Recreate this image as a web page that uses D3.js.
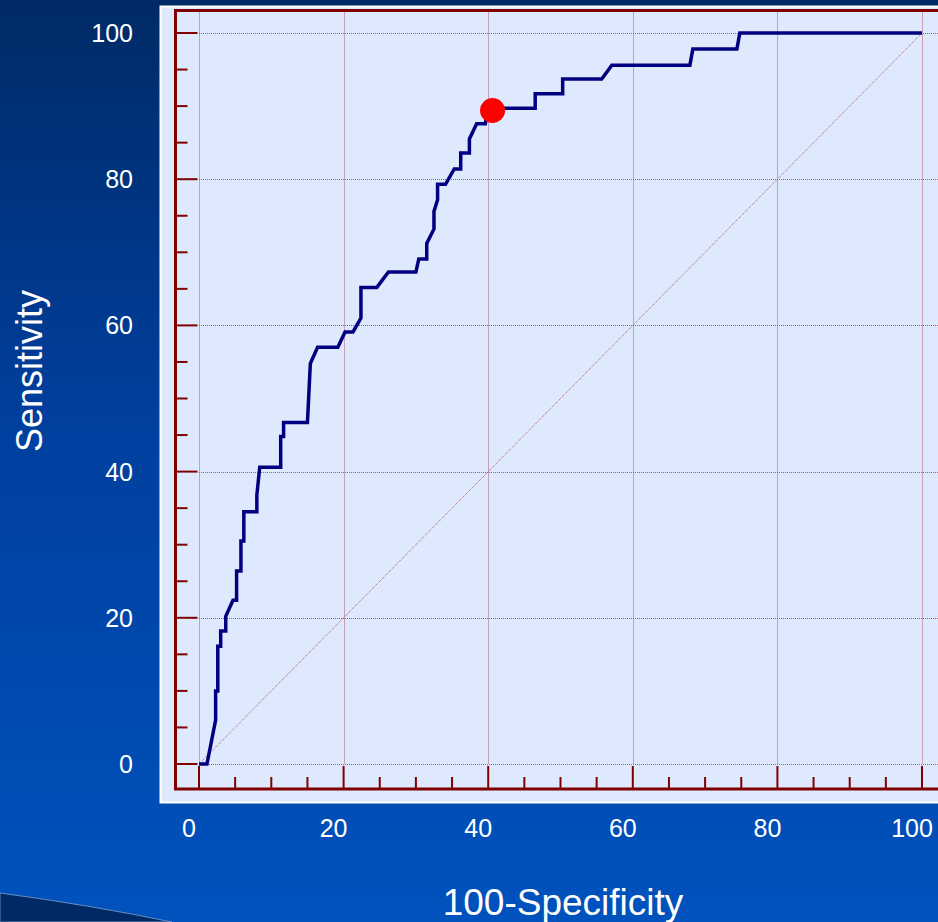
<!DOCTYPE html>
<html>
<head>
<meta charset="utf-8">
<script src="https://cdn.jsdelivr.net/npm/d3@7"></script>
<style>
  html, body { margin: 0; padding: 0; background: #003a8c; }
  svg { display: block; }
</style>
</head>
<body>
<div id="chart"></div>
<script>
// ROC curve (100-Specificity, Sensitivity)
var specPts = [0, 1.1, 2.3, 2.3, 2.6, 2.6, 3.0, 3.0, 3.7, 3.7, 4.7, 5.2, 5.2, 5.8, 5.8, 6.2, 6.2, 8.0, 8.0, 8.4,
               11.3, 11.3, 11.7, 11.7, 15.0, 15.4, 16.4, 19.2, 20.2, 21.3, 22.4, 22.4, 24.6, 26.2, 30.0, 30.4, 31.5, 31.5, 32.5, 32.5,
               33.0, 33.0, 34.1, 35.3, 36.2, 36.2, 37.4, 37.4, 38.4, 39.6, 40.0, 46.5, 46.5, 50.3, 50.3, 55.7, 57.1, 67.9, 68.3, 74.4,
               74.8, 100];
var sensPts = [0, 0, 6.0, 10.0, 10.0, 16.1, 16.1, 18.2, 18.2, 20.2, 22.4, 22.4, 26.4, 26.4, 30.5, 30.5, 34.5, 34.5, 36.8, 40.6,
               40.6, 44.8, 44.8, 46.7, 46.7, 54.8, 57.0, 57.0, 59.1, 59.1, 61.0, 65.2, 65.2, 67.3, 67.3, 69.1, 69.1, 71.2, 73.2, 75.6,
               77.2, 79.3, 79.3, 81.4, 81.4, 83.6, 83.6, 85.5, 87.6, 87.6, 89.7, 89.7, 91.7, 91.7, 93.7, 93.7, 95.6, 95.6, 97.8, 97.8,
               100, 100];
var cutPoint = [40.6, 89.4];
var majorTicks = [0, 20, 40, 60, 80, 100];
var minorTicks = d3.range(0, 101, 5).filter(function(d) { return d % 20 !== 0; });

var W = 938, H = 922;

var svg = d3.select('#chart').append('svg')
    .attr('width', W)
    .attr('height', H);

// slide background
var defs = svg.append('defs');
var grad = defs.append('linearGradient')
    .attr('id', 'bg')
    .attr('x1', 0).attr('y1', 0).attr('x2', 0).attr('y2', 1);
grad.append('stop').attr('offset', '0%').attr('stop-color', '#002a66');
grad.append('stop').attr('offset', '45%').attr('stop-color', '#003f9e');
grad.append('stop').attr('offset', '100%').attr('stop-color', '#0052bd');

svg.append('rect')
    .attr('width', W).attr('height', H)
    .attr('fill', 'url(#bg)');

// dark wedge in the bottom left corner
svg.append('path')
    .attr('d', 'M0,893 Q90,905 172,922 L0,922 Z')
    .attr('fill', '#002a66')
    .attr('stroke', '#7f9fd0')
    .attr('stroke-width', 0.8);

// plot panel
svg.append('rect')
    .attr('x', 160.5).attr('y', 6.5)
    .attr('width', 800).attr('height', 796)
    .attr('fill', '#dfe9fd')
    .attr('stroke', '#ffffff')
    .attr('stroke-width', 2);

// set the ranges
var x = d3.scaleLinear().domain([0, 100]).range([199, 922]);
var y = d3.scaleLinear().domain([0, 100]).range([764, 33]);

var frameLeft = 175.5, frameTop = 10.5, frameBottom = 789;
function crisp(v) { return Math.round(v) + 0.5; }

// grid
var grid = svg.append('g')
    .attr('stroke', '#a01830')
    .attr('stroke-width', 1)
    .attr('stroke-dasharray', '1,1')
    .attr('opacity', 0.7);

grid.selectAll('.vgrid')
    .data(majorTicks)
    .enter().append('line')
    .attr('x1', function(d) { return crisp(x(d)); })
    .attr('x2', function(d) { return crisp(x(d)); })
    .attr('y1', frameTop)
    .attr('y2', y(0));

grid.selectAll('.hgrid')
    .data(majorTicks)
    .enter().append('line')
    .attr('x1', x(0))
    .attr('x2', W)
    .attr('y1', function(d) { return crisp(y(d)); })
    .attr('y2', function(d) { return crisp(y(d)); });

// diagonal reference
grid.append('line')
    .attr('x1', x(0)).attr('y1', y(0))
    .attr('x2', x(100)).attr('y2', y(100));

// ticks
var ticks = svg.append('g')
    .attr('stroke', '#800000')
    .attr('stroke-width', 2);

ticks.selectAll('.ymaj')
    .data(majorTicks)
    .enter().append('line')
    .attr('x1', frameLeft).attr('x2', frameLeft + 22)
    .attr('y1', function(d) { return y(d); })
    .attr('y2', function(d) { return y(d); });

ticks.selectAll('.ymin')
    .data(minorTicks)
    .enter().append('line')
    .attr('x1', frameLeft).attr('x2', frameLeft + 12)
    .attr('y1', function(d) { return y(d); })
    .attr('y2', function(d) { return y(d); });

ticks.selectAll('.xmaj')
    .data(majorTicks)
    .enter().append('line')
    .attr('x1', function(d) { return x(d); })
    .attr('x2', function(d) { return x(d); })
    .attr('y1', frameBottom).attr('y2', frameBottom - 23);

ticks.selectAll('.xmin')
    .data(minorTicks)
    .enter().append('line')
    .attr('x1', function(d) { return x(d); })
    .attr('x2', function(d) { return x(d); })
    .attr('y1', frameBottom).attr('y2', frameBottom - 12);

// frame
svg.append('path')
    .attr('d', 'M' + W + ',' + frameTop + ' H' + frameLeft + ' V' + frameBottom + ' H' + W)
    .attr('fill', 'none')
    .attr('stroke', '#800000')
    .attr('stroke-width', 3);

// the ROC curve
var rocData = specPts.map(function(d, i) { return [d, sensPts[i]]; });
var rocLine = d3.line()
    .x(function(d) { return x(d[0]); })
    .y(function(d) { return y(d[1]); });

svg.append('path')
    .datum(rocData)
    .attr('d', rocLine)
    .attr('fill', 'none')
    .attr('stroke', '#000080')
    .attr('stroke-width', 3.5)
    .attr('stroke-linejoin', 'miter');

// cut-off point
svg.append('circle')
    .attr('cx', x(cutPoint[0]))
    .attr('cy', y(cutPoint[1]))
    .attr('r', 12.5)
    .attr('fill', '#ff0000');

// tick labels
var labels = svg.append('g')
    .attr('fill', '#ffffff')
    .style('font-family', 'Liberation Sans, Arial, sans-serif')
    .style('font-size', '25px');

labels.selectAll('.xl')
    .data(majorTicks)
    .enter().append('text')
    .attr('x', function(d) { return x(d) - 10; })
    .attr('y', 837)
    .attr('text-anchor', 'middle')
    .text(function(d) { return d; });

labels.selectAll('.yl')
    .data(majorTicks)
    .enter().append('text')
    .attr('x', 133)
    .attr('y', function(d) { return y(d) + 9; })
    .attr('text-anchor', 'end')
    .text(function(d) { return d; });

// axis titles
svg.append('text')
    .attr('x', 563)
    .attr('y', 915)
    .attr('text-anchor', 'middle')
    .attr('fill', '#ffffff')
    .style('font-family', 'Liberation Sans, Arial, sans-serif')
    .style('font-size', '37px')
    .text('100-Specificity');

svg.append('text')
    .attr('transform', 'translate(42,371) rotate(-90)')
    .attr('text-anchor', 'middle')
    .attr('fill', '#ffffff')
    .style('font-family', 'Liberation Sans, Arial, sans-serif')
    .style('font-size', '36px')
    .text('Sensitivity');
</script>
</body>
</html>
